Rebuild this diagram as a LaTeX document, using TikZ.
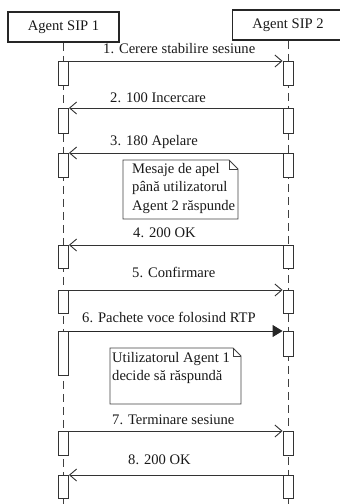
\documentclass[tikz,border=0pt]{standalone}
\usepackage{fontspec}
\setmainfont{Liberation Serif}
\usetikzlibrary{arrows.meta}
\begin{document}
\begin{tikzpicture}[x=1pt,y=-1pt,
  every node/.style={font=\fontsize{14.6}{18.5}\selectfont, text=black!90},
  agent/.style={draw=black!85, line width=1.6pt, minimum width=111pt, minimum height=30pt, inner sep=0pt},
  act/.style={draw=black!80, line width=0.9pt, minimum width=10pt, inner sep=0pt, fill=white},
  life/.style={draw=black!75, line width=0.9pt, dash pattern=on 8pt off 5pt},
  msg/.style={draw=black!80, line width=0.9pt, -{Straight Barb[length=7pt,width=12pt]}},
  msgfill/.style={draw=black!85, line width=0.9pt, -{Triangle[length=10pt,width=12pt]}},
  lbl/.style={anchor=base west, inner sep=0pt},
  notetext/.style={anchor=north west, inner sep=0pt, align=left},
  notebox/.style={draw=black!75, line width=0.9pt, line join=miter},
]
\useasboundingbox (0,0) rectangle (340,504);

% participants
\node[agent] (a1) at (63.5,27) {Agent SIP 1};
\node[agent] (a2) at (288,25) {Agent SIP 2};

% lifelines
\coordinate (e1) at (63.5,504);
\coordinate (e2) at (288,504);
\draw[life] (a1.south) -- (e1);
\draw[life] (a2.south) -- (e2);

% activation bars (top/bottom on the left and on the right lifeline)
\foreach \n/\t/\b in {1/61/85, 2/108/133, 3/153/177, 4/245/268, 5/290/313, 6/331/375, 7/431/455, 8/475/498}
  \node[act, minimum height={(\b-\t)*1pt}, anchor=north] (L\n) at (63.5,\t) {};
\foreach \n/\t/\b in {1/61/85, 2/108/133, 3/153/177, 4/245/268, 5/290/313, 6/331/356, 7/431/455, 8/475/498}
  \node[act, minimum height={(\b-\t)*1pt}, anchor=north] (R\n) at (288,\t) {};

% messages
\draw[msg] (L1.north east) -- (R1.north west);
\draw[msg] (R2.north west) -- (L2.north east);
\draw[msg] (R3.north west) -- (L3.north east);
\draw[msg] (R4.north west) -- (L4.north east);
\draw[msg] (L5.north east) -- (R5.north west);
\draw[msgfill] (L6.north east) -- (R6.north west);
\draw[msg] (L7.north east) -- (R7.north west);
\draw[msg] (R8.north west) -- (L8.north east);

% message labels
\node[lbl] (m1) at (103,53) {1. Cerere stabilire sesiune};
\node[lbl] (m2) at (110,102) {2. 100 Incercare};
\node[lbl] (m3) at (110,145) {3. 180 Apelare};
\node[lbl] (m4) at (133,237) {4. 200 OK};
\node[lbl] (m5) at (132,277) {5. Confirmare};
\node[lbl] (m6) at (82,322) {6. Pachete voce folosind RTP};
\node[lbl] (m7) at (112,424) {7. Terminare sesiune};
\node[lbl] (m8) at (128,464) {8. 200 OK};

% notes with folded corner
\draw[notebox] (123,160) -- (229,160) -- (238,169) -- (238,219) -- (123,219) -- cycle;
\draw[notebox] (229,160) -- (229,169) -- (238,169);
\node[notetext] (n1) at (132,163) {Mesaje de apel\\până utilizatorul\\Agent 2 răspunde};

\draw[notebox] (110,348) -- (233,348) -- (241,356) -- (241,404) -- (110,404) -- cycle;
\draw[notebox] (233,348) -- (233,356) -- (241,356);
\node[notetext] (n2) at (112,352) {Utilizatorul Agent 1\\decide să răspundă};
\end{tikzpicture}
\end{document}
